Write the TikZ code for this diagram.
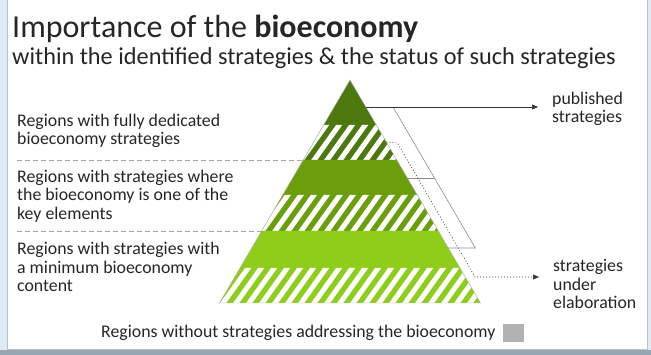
\documentclass[tikz,border=0pt]{standalone}
\usepackage{fontspec}
\setmainfont{Carlito}
\usetikzlibrary{arrows.meta,positioning}
\definecolor{verdeA}{RGB}{76,120,14}
\definecolor{verdeB}{RGB}{106,158,10}
\definecolor{verdeC}{RGB}{142,205,26}
\definecolor{azulmarco}{RGB}{220,236,247}
\definecolor{barra}{RGB}{150,166,178}
\definecolor{texto}{RGB}{38,38,38}
\tikzset{
  etiqueta/.style={anchor=west, align=left, inner sep=0pt, text=texto,
    font=\fontsize{17.8}{18.6}\selectfont},
  guia/.style={black!35, dash pattern=on 5pt off 3pt, line width=0.7pt},
  borde/.style={black!45, line width=0.6pt},
  flecha/.style={-{Triangle[length=6pt,width=5pt]}, line width=0.6pt, black!80},
}
\begin{document}
\begin{tikzpicture}[x=1pt,y=-1pt]
  \useasboundingbox (0,0) rectangle (651,355);
  % Marco
  \fill[white] (0,0) rectangle (651,355);
  \fill[azulmarco] (0,0) rectangle (7,355);
  \fill[azulmarco] (647,0) rectangle (651,355);
  \draw[black!25] (7,0) -- (7,349) -- (647,349) -- (647,0);
  \fill[barra] (0,350) rectangle (651,355);

  % Título
  \node[anchor=base west, inner sep=0pt, text=texto, font=\fontsize{32}{36}\selectfont] (titulo) at (12,38) {Importance of the \textbf{bioeconomy}};
  \node[anchor=base west, inner sep=0pt, text=texto, font=\fontsize{24.3}{28}\selectfont] (subtitulo) at (12,65) {within the identified strategies \& the status of such strategies};

  % Pirámide: franjas lisas (0) y rayadas (1)
  \foreach \ya/\yb/\col/\rayas in {80/125/verdeA/0, 125/160/verdeA/1, 160/195/verdeB/0, 195/231/verdeB/1, 231/268/verdeC/0, 268/303/verdeC/1}{
    \pgfmathsetmacro{\xa}{0.5852*(\ya-80)}
    \pgfmathsetmacro{\xb}{0.5852*(\yb-80)}
    \fill[\col] (350-\xa,\ya) -- (350+\xa,\ya) -- (350+\xb,\yb) -- (350-\xb,\yb) -- cycle;
    \ifnum\rayas=1
      \begin{scope}
        \clip (350-\xa,\ya) -- (350+\xa,\ya) -- (350+\xb,\yb) -- (350-\xb,\yb) -- cycle;
        \foreach \s in {190,203,...,500}
          \draw[white, line width=5pt] (\s,\yb+10) -- ++(40,-56);
      \end{scope}
    \fi
  }
  \draw[black!30, line width=0.4pt] (350,80) -- (219.5,303) -- (480.5,303) -- cycle;

  % Estado de las estrategias
  \node[etiqueta] (publicadas) at (552,109) {published\\strategies};
  \node[etiqueta] (elaboracion) at (553,284) {strategies\\under\\elaboration};
  \coordinate (p1) at (365.8,107);
  \coordinate (p2) at (393,107);
  \coordinate (p3) at (475.3,248);
  \coordinate (p4) at (448.3,248);
  \coordinate (m1) at (407.3,178);
  \coordinate (m2) at (434.3,178);
  \draw[borde] (p2) -- (p3) -- (p4);
  \draw[borde] (m1) -- (m2);
  \draw[flecha, shorten >=14pt] (p1) -- (p1 -| publicadas.west);
  \coordinate (d1) at (386.5,142);
  \coordinate (d2) at (397.5,143);
  \coordinate (d3) at (475,277);
  \draw[flecha, dash pattern=on 1pt off 2pt, shorten >=14pt] (d1) -- (d2) -- (d3) -- (d3 -| elaboracion.west);

  % Niveles
  \node[etiqueta] (nivel1) at (17,131) {Regions with fully dedicated\\bioeconomy strategies};
  \node[etiqueta] (nivel2) at (17,196) {Regions with strategies where\\the bioeconomy is one of the\\key elements};
  \node[etiqueta] (nivel3) at (17,267) {Regions with strategies with\\a minimum bioeconomy\\content};
  \coordinate (g1) at (17,160);
  \coordinate (e1) at (303.2,160);
  \coordinate (g2) at (17,231);
  \coordinate (e2) at (261.6,231);
  \draw[guia] (g1) -- (e1);
  \draw[guia] (g2) -- (e2);

  % Sin estrategia
  \node[etiqueta] (sinestrategia) at (101,333) {Regions without strategies addressing the bioeconomy};
  \node[fill=black!30, minimum width=21pt, minimum height=18pt, inner sep=0pt, right=7pt of sinestrategia] (cajagris) {};
\end{tikzpicture}
\end{document}
